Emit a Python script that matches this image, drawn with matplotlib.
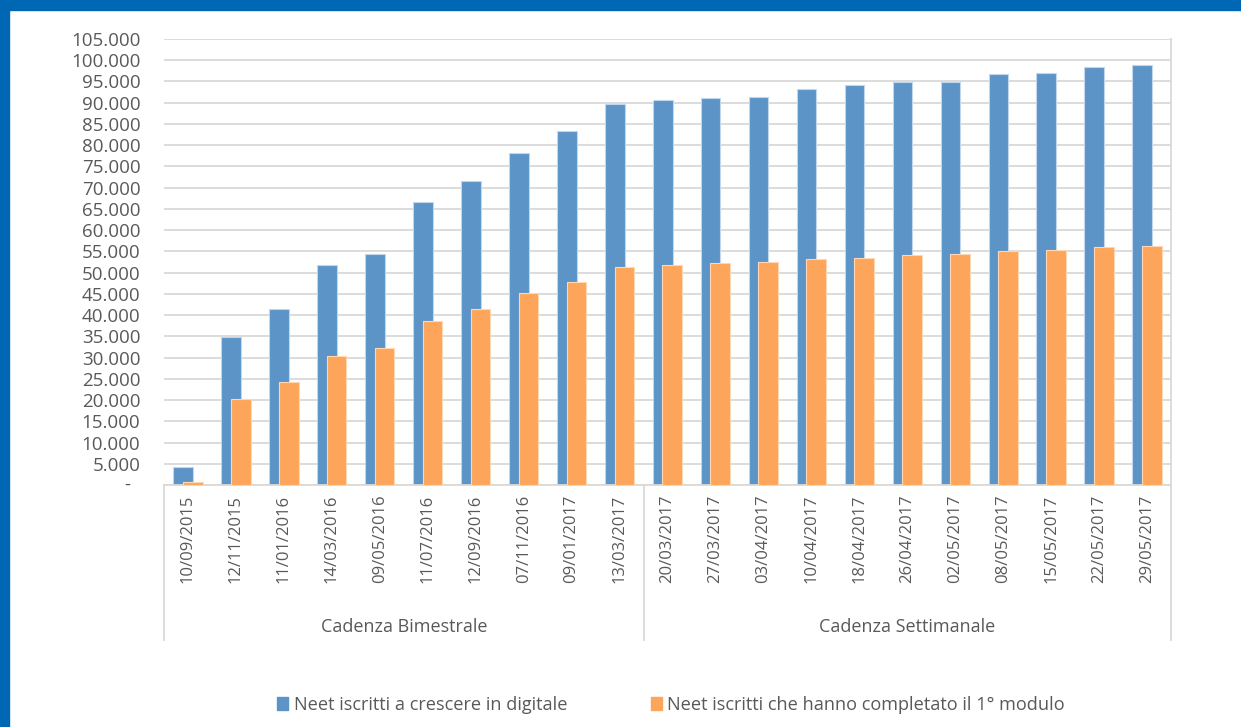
import matplotlib
matplotlib.use('Agg')
from matplotlib import pyplot as plt
from matplotlib.patches import Rectangle, Patch
from matplotlib.ticker import FuncFormatter
import numpy as np

plt.rcParams['font.family'] = ['Open Sans', 'DejaVu Sans']

dates = ['10/09/2015', '12/11/2015', '11/01/2016', '14/03/2016', '09/05/2016',
         '11/07/2016', '12/09/2016', '07/11/2016', '09/01/2017', '13/03/2017',
         '20/03/2017', '27/03/2017', '03/04/2017', '10/04/2017', '18/04/2017',
         '26/04/2017', '02/05/2017', '08/05/2017', '15/05/2017', '22/05/2017',
         '29/05/2017']
groups = ['Cadenza Bimestrale', 'Cadenza Settimanale']
group_sizes = [10, 11]

iscritti = [4300, 34900, 41400, 51800, 54450, 66600, 71650, 78250, 83250, 89700,
            90700, 91200, 91350, 93200, 94100, 94950, 94950, 96850, 97050, 98400,
            98800]
completato = [600, 20250, 24200, 30350, 32350, 38700, 41350, 45150, 47850, 51400,
              51850, 52250, 52500, 53200, 53500, 54200, 54400, 55150, 55400, 55950,
              56250]

series_names = ['Neet iscritti a crescere in digitale',
                'Neet iscritti che hanno completato il 1° modulo']

BLUE = '#5D94C8'
ORANGE = '#FDA65B'
TXT = '#595959'
GRID = '#D9D9D9'
FRAME = '#0067B4'

W, H = 1241, 727
fig = plt.figure(figsize=(W / 100, H / 100), dpi=100)
ax = fig.add_axes([164 / W, (H - 485) / H, (1171 - 164) / W, (485 - 39) / H])

x = np.arange(len(dates))
ax.bar(x - 0.1, iscritti, width=0.41, color=BLUE, edgecolor='#C3D7EC',
       linewidth=0.8, zorder=2)
ax.bar(x + 0.1, completato, width=0.41, color=ORANGE, edgecolor='#FFD8B3',
       linewidth=0.8, zorder=3)

ax.set_xlim(-0.5, len(dates) - 0.5)
ax.set_ylim(0, 105000)
ax.set_yticks(np.arange(0, 105001, 5000))
ax.yaxis.set_major_formatter(FuncFormatter(
    lambda v, p: '' if v == 0 else f'{int(v):,}'.replace(',', '.')))
ax.tick_params(axis='y', length=0, pad=17, labelsize=13.5, labelcolor=TXT)
ax.grid(axis='y', color=GRID, linewidth=1.3, zorder=0)
ax.set_axisbelow(True)

ax.set_xticks(x)
ax.set_xticklabels(dates, rotation=90, fontsize=12, color=TXT)
ax.tick_params(axis='x', length=0, pad=7)

for s in ['top', 'left', 'right']:
    ax.spines[s].set_visible(False)
ax.spines['bottom'].set_color(GRID)
ax.spines['bottom'].set_linewidth(1.3)

# zero label shown as a dash, like the accounting format
ax.text(-(164 - 130) / (1171 - 164), 0, '-', transform=ax.get_yaxis_transform(),
        ha='right', va='center', fontsize=13.5, color=TXT)

# group separators and labels under the dates
trans = ax.get_xaxis_transform()
low = -(640 - 485) / (485 - 39)
start = -0.5
for name, n in zip(groups, group_sizes):
    ax.plot([start, start], [low, 0], transform=trans, color=GRID,
            linewidth=1.3, clip_on=False)
    ax.text(start + n / 2, -(627 - 485) / (485 - 39), name, transform=trans,
            ha='center', va='center', fontsize=13, color=TXT)
    start += n
ax.plot([start, start], [low, 1], transform=trans, color=GRID,
        linewidth=1.3, clip_on=False)

handles = [Patch(color=BLUE), Patch(color=ORANGE)]
fig.legend(handles, series_names, loc='center', ncol=2, frameon=False,
           bbox_to_anchor=(671 / W, 1 - 705 / H), fontsize=13.1,
           handlelength=0.6, handleheight=0.7, handletextpad=0.3,
           columnspacing=4.6, labelcolor=TXT)

# blue frame at top and left
fig.add_artist(Rectangle((0, 1 - 10 / H), 1, 10 / H, transform=fig.transFigure,
                         color=FRAME, zorder=10))
fig.add_artist(Rectangle((0, 0), 9 / W, 1, transform=fig.transFigure,
                         color=FRAME, zorder=10))

fig.savefig('out.png', dpi=100)
